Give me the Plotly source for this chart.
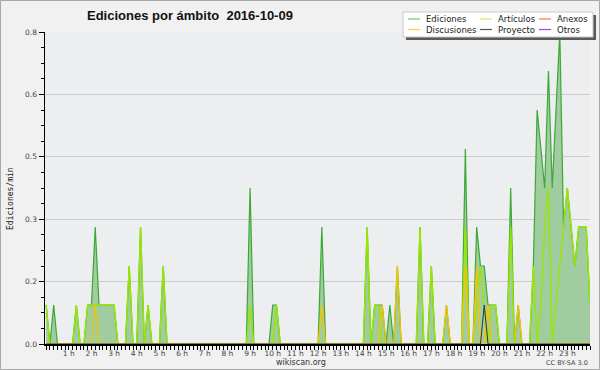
import plotly.graph_objects as go

# ---------------- data (10-minute bins, 0 h .. 24 h) ----------------
minutes = list(range(0, 24 * 60 + 1, 10))
x_hours = [m / 60 for m in minutes]

ediciones = [
    0.1, 0, 0.1, 0, 0, 0,        # 0 h
    0, 0, 0.1, 0, 0, 0.1,        # 1 h
    0.1, 0.3, 0.1, 0.1, 0.1, 0.1,  # 2 h
    0.1, 0, 0, 0, 0.2, 0,        # 3 h
    0, 0.3, 0, 0.1, 0, 0,        # 4 h
    0, 0.2, 0, 0, 0, 0,          # 5 h
    0, 0, 0, 0, 0, 0,            # 6 h
    0, 0, 0, 0, 0, 0,            # 7 h
    0, 0, 0, 0, 0, 0,            # 8 h
    0.4, 0, 0, 0, 0, 0,          # 9 h
    0.1, 0.1, 0, 0, 0, 0,        # 10 h
    0, 0, 0, 0, 0, 0,            # 11 h
    0, 0.3, 0, 0, 0, 0,          # 12 h
    0, 0, 0, 0, 0, 0,            # 13 h
    0, 0.3, 0, 0.1, 0.1, 0.1,    # 14 h
    0, 0.1, 0, 0.2, 0, 0,        # 15 h
    0, 0, 0, 0.3, 0, 0,          # 16 h
    0.2, 0, 0, 0, 0.1, 0,        # 17 h
    0, 0, 0, 0.5, 0, 0,          # 18 h
    0.3, 0.2, 0.2, 0.1, 0.1, 0.1,  # 19 h
    0, 0, 0, 0.4, 0, 0.1,        # 20 h
    0, 0, 0, 0.2, 0.6, 0.5,      # 21 h
    0.4, 0.7, 0.4, 0.6, 0.8, 0.3,  # 22 h
    0.4, 0.3, 0.2, 0.3, 0.3, 0.3,  # 23 h
    0.1,                         # 24 h
]

articulos = [
    0.1, 0, 0, 0, 0, 0,
    0, 0, 0.1, 0, 0, 0.1,
    0.1, 0.1, 0.1, 0.1, 0.1, 0.1,
    0.1, 0, 0, 0, 0.2, 0,
    0, 0.3, 0, 0.1, 0, 0,
    0, 0.2, 0, 0, 0, 0,
    0, 0, 0, 0, 0, 0,
    0, 0, 0, 0, 0, 0,
    0, 0, 0, 0, 0, 0,
    0.1, 0, 0, 0, 0, 0,
    0, 0.1, 0, 0, 0, 0,
    0, 0, 0, 0, 0, 0,
    0, 0, 0, 0, 0, 0,
    0, 0, 0, 0, 0, 0,
    0, 0.3, 0, 0.1, 0.1, 0,
    0, 0, 0, 0, 0, 0,
    0, 0, 0, 0.3, 0, 0,
    0.2, 0, 0, 0, 0, 0,
    0, 0, 0, 0.3, 0, 0,
    0.1, 0.2, 0.1, 0, 0.1, 0.1,
    0, 0, 0, 0.3, 0, 0,
    0, 0, 0, 0.2, 0, 0.1,
    0.3, 0.4, 0, 0.1, 0.2, 0.3,
    0.4, 0.3, 0.2, 0.3, 0.3, 0.3,
    0.1,
]

discusiones = [
    0, 0, 0, 0, 0, 0,
    0, 0, 0, 0, 0, 0,
    0, 0.1, 0, 0, 0, 0,
    0, 0, 0, 0, 0, 0,
    0, 0, 0, 0, 0, 0,
    0, 0, 0, 0, 0, 0,
    0, 0, 0, 0, 0, 0,
    0, 0, 0, 0, 0, 0,
    0, 0, 0, 0, 0, 0,
    0, 0, 0, 0, 0, 0,
    0, 0, 0, 0, 0, 0,
    0, 0, 0, 0, 0, 0,
    0, 0.1, 0, 0, 0, 0,
    0, 0, 0, 0, 0, 0,
    0, 0, 0, 0, 0, 0.1,
    0, 0, 0, 0.2, 0, 0,
    0, 0, 0, 0, 0, 0,
    0, 0, 0, 0, 0.1, 0,
    0, 0, 0, 0.2, 0, 0,
    0.2, 0, 0, 0.1, 0, 0,
    0, 0, 0, 0, 0, 0.1,
    0, 0, 0, 0, 0, 0,
    0, 0, 0, 0, 0, 0,
    0, 0, 0, 0, 0, 0,
    0,
]

proyecto = [
    0, 0, 0, 0, 0, 0,
    0, 0, 0, 0, 0, 0,
    0, 0, 0, 0, 0, 0,
    0, 0, 0, 0, 0, 0,
    0, 0, 0, 0, 0, 0,
    0, 0, 0, 0, 0, 0,
    0, 0, 0, 0, 0, 0,
    0, 0, 0, 0, 0, 0,
    0, 0, 0, 0, 0, 0,
    0, 0, 0, 0, 0, 0,
    0, 0, 0, 0, 0, 0,
    0, 0, 0, 0, 0, 0,
    0, 0, 0, 0, 0, 0,
    0, 0, 0, 0, 0, 0,
    0, 0, 0, 0, 0, 0,
    0, 0, 0, 0, 0, 0,
    0, 0, 0, 0, 0, 0,
    0, 0, 0, 0, 0, 0,
    0, 0, 0, 0, 0, 0,
    0, 0, 0.1, 0, 0, 0,
    0, 0, 0, 0, 0, 0,
    0, 0, 0, 0, 0, 0,
    0, 0, 0, 0, 0, 0,
    0, 0, 0, 0, 0, 0,
    0,
]

hour_ticks = list(range(1, 24))
hour_labels = [f"{h} h" for h in hour_ticks]
y_ticks = [0, 0.16, 0.32, 0.48, 0.64, 0.8]
y_labels = ["0.0", "0.2", "0.3", "0.5", "0.6", "0.8"]

legend_labels = ["Ediciones", "Artículos", "Anexos", "Discusiones", "Proyecto", "Otros"]
legend_colors = ["#66cc66", "#c8f060", "#ff7744", "#ffcc44", "#555555", "#9944ee"]

# ---------------- figure ----------------
W, H = 600, 370
L, R, T, B = 45, 10, 32, 26
PW, PH = W - L - R, H - T - B


def px(x):
    return (x - L) / PW


def py(y):
    return (H - B - y) / PH


FONT = "DejaVu Sans"

fig = go.Figure()
fig.add_trace(go.Scatter(
    x=x_hours, y=ediciones, name="Ediciones", mode="lines",
    line=dict(color="#3aaa35", width=1.2), fill="tozeroy",
    fillcolor="#a0cc9f", showlegend=False, hoverinfo="skip"))
fig.add_trace(go.Scatter(
    x=x_hours, y=articulos, name="Artículos", mode="lines",
    line=dict(color="#9be600", width=1.4), showlegend=False, hoverinfo="skip"))
fig.add_trace(go.Scatter(
    x=x_hours, y=discusiones, name="Discusiones", mode="lines",
    line=dict(color="#f5c400", width=1.3), showlegend=False, hoverinfo="skip"))
fig.add_trace(go.Scatter(
    x=x_hours, y=proyecto, name="Proyecto", mode="lines",
    line=dict(color="#333333", width=1.0), showlegend=False, hoverinfo="skip"))

shapes = []
# outer frame
shapes.append(dict(type="rect", xref="paper", yref="paper",
                   x0=px(0.5), x1=px(599.5), y0=py(369.5), y1=py(0.5),
                   line=dict(color="#a8a8a8", width=1), layer="below"))
# legend shadow and box
shapes.append(dict(type="rect", xref="paper", yref="paper",
                   x0=px(406), x1=px(596), y0=py(40), y1=py(15),
                   fillcolor="#5a5a5a", line=dict(width=0)))
shapes.append(dict(type="rect", xref="paper", yref="paper",
                   x0=px(403), x1=px(593), y0=py(37), y1=py(12),
                   fillcolor="#ffffff", line=dict(color="#c8c8c8", width=1)))

annotations = []
col_line_x = [408, 480, 539]
col_text_x = [424, 496, 555]
row_y = [19, 29.5]
for k, (lab, col) in enumerate(zip(legend_labels, legend_colors)):
    r, c = divmod(k, 3)
    shapes.append(dict(type="line", xref="paper", yref="paper",
                       x0=px(col_line_x[c]), x1=px(col_line_x[c] + 12),
                       y0=py(row_y[r]), y1=py(row_y[r]),
                       line=dict(color=col, width=1.2)))
    annotations.append(dict(text=lab, xref="paper", yref="paper",
                            x=px(col_text_x[c]), y=py(row_y[r]),
                            xanchor="left", yanchor="middle", showarrow=False,
                            font=dict(family=FONT, size=8.5, color="#222222")))

# title
annotations.append(dict(text="<b>Ediciones por ámbito\u00a0 2016-10-09</b>",
                        xref="paper", yref="paper", x=px(85), y=py(16),
                        xanchor="left", yanchor="middle", showarrow=False,
                        font=dict(family="Liberation Sans", size=13, color="#111111")))
# y-axis title
annotations.append(dict(text="Ediciones/min", xref="paper", yref="paper",
                        x=px(10), y=py(199), xanchor="center", yanchor="middle",
                        textangle=-90, showarrow=False,
                        font=dict(family="DejaVu Sans Mono", size=8, color="#111111")))
# footer
annotations.append(dict(text="wikiscan.org", xref="paper", yref="paper",
                        x=px(301), y=py(362), xanchor="center", yanchor="middle",
                        showarrow=False, font=dict(family=FONT, size=8, color="#333333")))
annotations.append(dict(text="CC BY-SA 3.0", xref="paper", yref="paper",
                        x=px(590), y=py(363), xanchor="right", yanchor="middle",
                        showarrow=False, font=dict(family=FONT, size=6.5, color="#444444")))

fig.update_layout(
    width=W, height=H,
    margin=dict(l=L, r=R, t=T, b=B, pad=0, autoexpand=False),
    paper_bgcolor="#f1f1f1",
    plot_bgcolor="#edeef0",
    shapes=shapes,
    annotations=annotations,
    showlegend=False,
    xaxis=dict(
        range=[-0.05, 24], tickmode="array", tickvals=hour_ticks, ticktext=hour_labels,
        ticks="outside", ticklen=4, tickwidth=1, tickcolor="#000000",
        showline=True, linecolor="#000000", linewidth=1.8, showgrid=False, zeroline=False,
        tickfont=dict(family=FONT, size=7.5, color="#444444"),
        ticklabelstandoff=-3,
        minor=dict(tickmode="linear", tick0=0, dtick=1 / 6, ticks="outside",
                   ticklen=4, tickwidth=1, tickcolor="#000000", showgrid=False),
        automargin=False, fixedrange=True,
    ),
    yaxis=dict(
        range=[0, 0.8], tickmode="array", tickvals=y_ticks, ticktext=y_labels,
        ticks="outside", ticklen=5, tickwidth=1, tickcolor="#000000",
        showline=True, linecolor="#000000", linewidth=1.5,
        showgrid=True, gridcolor="#cccccc", gridwidth=1, zeroline=False,
        tickfont=dict(family=FONT, size=7.5, color="#444444"),
        minor=dict(tickmode="linear", tick0=0, dtick=0.04, ticks="outside",
                   ticklen=3, tickwidth=1, tickcolor="#000000", showgrid=False),
        automargin=False, fixedrange=True,
    ),
)

fig.write_html(
    "out.html",
    config={"displayModeBar": False, "staticPlot": True},
    post_script="document.body.style.margin='0';document.body.style.padding='0';"
                "document.documentElement.style.overflow='hidden';",
)
